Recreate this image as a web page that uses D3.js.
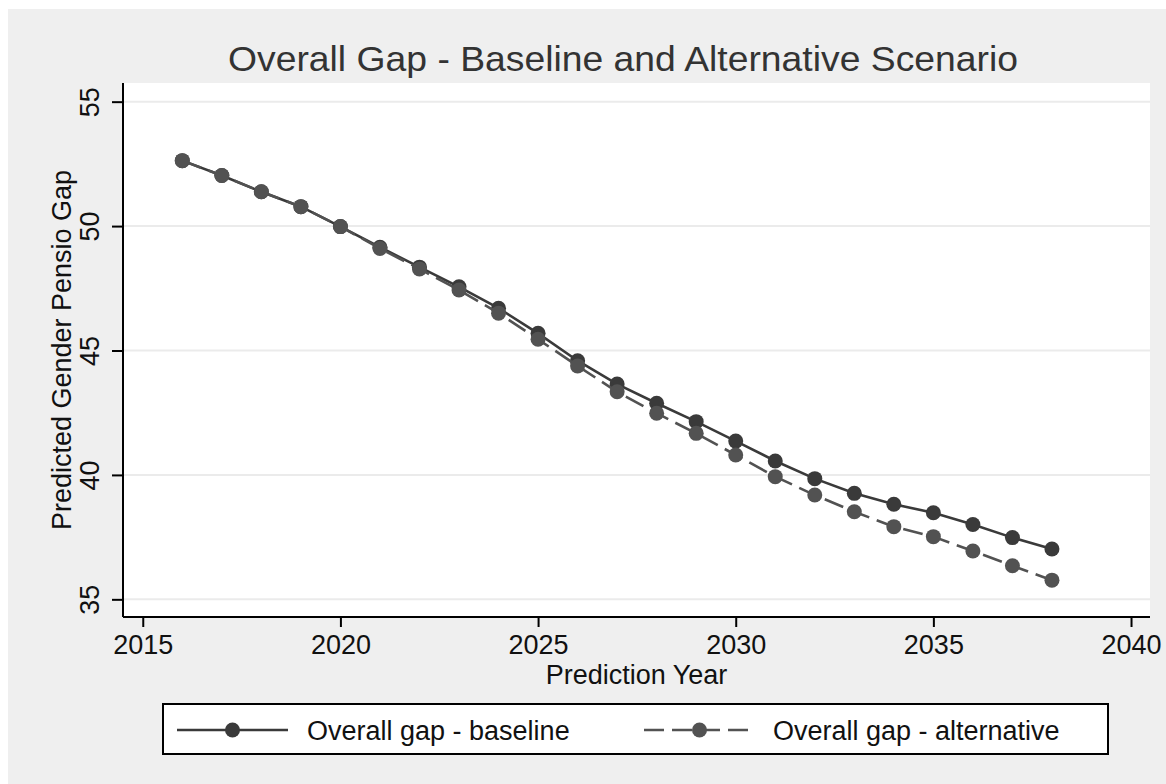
<!DOCTYPE html>
<html>
<head>
<meta charset="utf-8">
<script src="https://cdn.jsdelivr.net/npm/d3@7"></script>
<style>
  html, body { margin: 0; padding: 0; background: #ffffff; }
  svg { display: block; font-family: "Liberation Sans", Arial, sans-serif; }
</style>
</head>
<body>
<svg id="chart" width="1166" height="784"></svg>
<script>
// Prediction years and predicted gender pension gap under two scenarios
const years = [2016, 2017, 2018, 2019, 2020, 2021, 2022, 2023, 2024, 2025, 2026, 2027,
               2028, 2029, 2030, 2031, 2032, 2033, 2034, 2035, 2036, 2037, 2038];
const baseline = [52.63, 52.03, 51.38, 50.78, 49.98, 49.15, 48.35, 47.56, 46.70, 45.69, 44.59, 43.65,
                  42.88, 42.14, 41.36, 40.56, 39.85, 39.26, 38.82, 38.48, 38.01, 37.48, 37.02];
const alternative = [52.63, 52.03, 51.38, 50.78, 49.98, 49.10, 48.28, 47.43, 46.50, 45.45, 44.38, 43.34,
                     42.48, 41.67, 40.80, 39.93, 39.19, 38.52, 37.92, 37.52, 36.94, 36.35, 35.77];
const xTicks = [2015, 2020, 2025, 2030, 2035, 2040];
const yTicks = [35, 40, 45, 50, 55];
const seriesNames = ["Overall gap - baseline", "Overall gap - alternative"];

const svg = d3.select("#chart");

// graph background
svg.append("rect").attr("x", 8).attr("y", 9).attr("width", 1158).attr("height", 775)
  .attr("fill", "#efefef");

const plot = { left: 123, right: 1150, top: 83, bottom: 617 };
svg.append("rect").attr("x", plot.left).attr("y", plot.top)
  .attr("width", plot.right - plot.left).attr("height", plot.bottom - plot.top)
  .attr("fill", "#ffffff");

const x = d3.scaleLinear().domain([2014.5, 2040.48]).range([plot.left, plot.right]);
const y = d3.scaleLinear().domain([34.29, 55.75]).range([plot.bottom, plot.top]);

// horizontal grid lines
svg.append("g").selectAll("line").data(yTicks).join("line")
  .attr("x1", plot.left).attr("x2", plot.right)
  .attr("y1", d => y(d)).attr("y2", d => y(d))
  .attr("stroke", "#ebebeb").attr("stroke-width", 2);

// axes
const xAxis = svg.append("g").attr("transform", `translate(0,${plot.bottom})`)
  .call(d3.axisBottom(x).tickValues(xTicks).tickFormat(d3.format("d")).tickSize(10).tickPadding(8).tickSizeOuter(0));
xAxis.select(".domain").attr("stroke", "#000").attr("stroke-width", 2)
  .attr("d", `M${plot.left},0H${plot.right}`);
xAxis.selectAll(".tick line").attr("stroke", "#000").attr("stroke-width", 2);
xAxis.selectAll(".tick text").attr("font-size", 27).attr("fill", "#111")
  .attr("font-family", "Liberation Sans, Arial, sans-serif");

const yAxis = svg.append("g").attr("transform", `translate(${plot.left},0)`)
  .call(d3.axisLeft(y).tickValues(yTicks).tickSize(11).tickSizeOuter(0));
yAxis.select(".domain").attr("stroke", "#000").attr("stroke-width", 2)
  .attr("d", `M0,${plot.bottom}V${plot.top}`);
yAxis.selectAll(".tick line").attr("stroke", "#000").attr("stroke-width", 2);
yAxis.selectAll(".tick text")
  .attr("font-size", 27).attr("fill", "#111")
  .attr("font-family", "Liberation Sans, Arial, sans-serif")
  .attr("x", null).attr("dy", null)
  .attr("text-anchor", "middle")
  .attr("transform", "translate(-24,0) rotate(-90)");

// series
const styles = [
  { data: baseline, color: "#3a3a3a", dash: null },
  { data: alternative, color: "#525252", dash: "20,8" }
];
const line = d3.line().x(d => x(d[0])).y(d => y(d[1]));

styles.forEach(s => {
  const pts = years.map((yr, i) => [yr, s.data[i]]);
  const g = svg.append("g");
  g.append("path").datum(pts).attr("d", line)
    .attr("fill", "none").attr("stroke", s.color).attr("stroke-width", 2.6)
    .attr("stroke-dasharray", s.dash);
  g.selectAll("circle").data(pts).join("circle")
    .attr("cx", d => x(d[0])).attr("cy", d => y(d[1])).attr("r", 7.5)
    .attr("fill", s.color);
});

// titles
svg.append("text").attr("x", 623).attr("y", 71).attr("text-anchor", "middle")
  .attr("font-size", 35).attr("fill", "#333")
  .attr("textLength", 790).attr("lengthAdjust", "spacingAndGlyphs")
  .text("Overall Gap - Baseline and Alternative Scenario");

svg.append("text").attr("x", (plot.left + plot.right) / 2).attr("y", 684)
  .attr("text-anchor", "middle").attr("font-size", 27).attr("fill", "#111")
  .text("Prediction Year");

svg.append("text").attr("transform", `translate(71,${(plot.top + plot.bottom) / 2}) rotate(-90)`)
  .attr("text-anchor", "middle").attr("font-size", 27).attr("fill", "#111")
  .text("Predicted Gender Pensio Gap");

// legend
const legend = svg.append("g");
legend.append("rect").attr("x", 163).attr("y", 704).attr("width", 945).attr("height", 50)
  .attr("fill", "#fff").attr("stroke", "#000").attr("stroke-width", 2);

const keys = [
  { x0: 177, x1: 288, text: 307 },
  { x0: 644, x1: 755, text: 773 }
];
keys.forEach((k, i) => {
  const s = styles[i];
  const ly = 730;
  legend.append("line").attr("x1", k.x0).attr("x2", k.x1).attr("y1", ly).attr("y2", ly)
    .attr("stroke", s.color).attr("stroke-width", 2.6).attr("stroke-dasharray", s.dash);
  legend.append("circle").attr("cx", (k.x0 + k.x1) / 2).attr("cy", ly).attr("r", 7.5)
    .attr("fill", s.color);
  legend.append("text").attr("x", k.text).attr("y", 740).attr("font-size", 27)
    .attr("fill", "#111").text(seriesNames[i]);
});
</script>
</body>
</html>
